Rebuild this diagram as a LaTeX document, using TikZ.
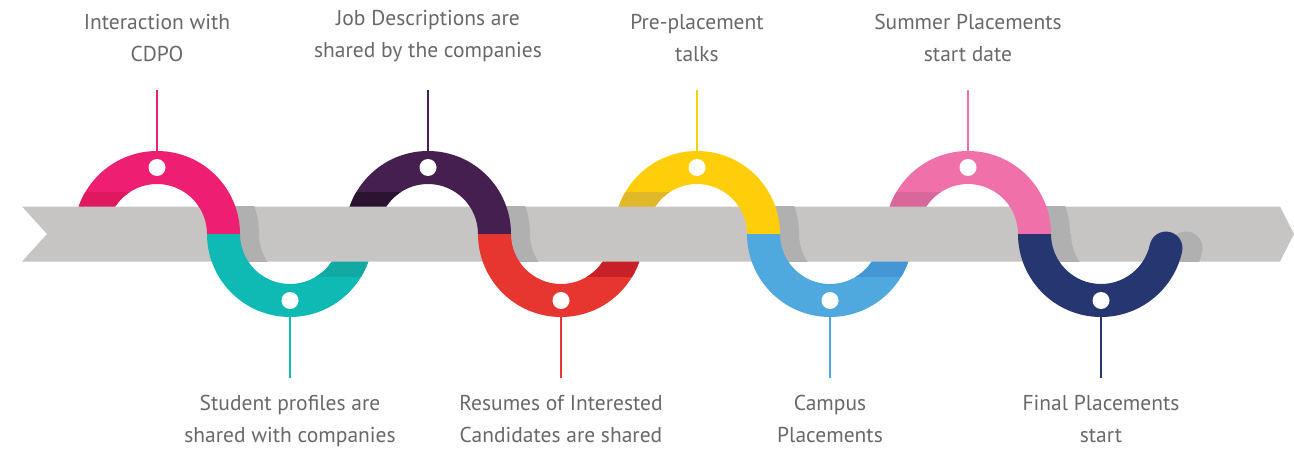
\documentclass[tikz,border=0pt]{standalone}
\usepackage{fontspec}
\setmainfont{PT Sans}
\usetikzlibrary{positioning}
\definecolor{cpink}{HTML}{EE1F72}
\definecolor{cpinkd}{HTML}{E0185F}
\definecolor{cteal}{HTML}{10BAB4}
\definecolor{ctealD}{HTML}{13A9A3}
\definecolor{cpurple}{HTML}{441F50}
\definecolor{cpurpleD}{HTML}{2A1430}
\definecolor{cred}{HTML}{E7362F}
\definecolor{credD}{HTML}{C82027}
\definecolor{cyellow}{HTML}{FFCE0B}
\definecolor{cyellowD}{HTML}{E0B82A}
\definecolor{cblue}{HTML}{4FA8DE}
\definecolor{cblueD}{HTML}{4596D4}
\definecolor{cpinkb}{HTML}{F071AA}
\definecolor{cpinkbD}{HTML}{D8689A}
\definecolor{cnavy}{HTML}{253671}
\definecolor{bandgray}{HTML}{C6C5C3}
\definecolor{shadowgray}{HTML}{B0B0B0}
\definecolor{txtgray}{HTML}{67686A}
\newcommand\ringpath[2]{({#1-83},217) arc[start angle=180,end angle={180-180*(#2)},radius=83pt] -- ({#1+50},217) arc[start angle={180-180*(#2)},end angle=180,radius=50pt] -- cycle}
\newcommand\navypath{(1018,217) arc[start angle=180,end angle=347.8,radius=83pt] arc[start angle=347.8,end angle=527.8,radius=16.5pt] arc[start angle=347.8,end angle=180,radius=50pt] -- cycle}
\begin{document}
\begin{tikzpicture}[x=1pt,y=1pt,
  lbl/.style={align=center,inner sep=0pt,text=txtgray,font=\fontsize{21.5}{32}\selectfont},
  ringdot/.style={circle,fill=white,inner sep=0pt,minimum size=17pt},
  stem/.style={line width=2.5pt}]
\useasboundingbox (0,0) rectangle (1294,451);

\foreach \c/\s/\col/\dk in {157/1/cpink/cpinkd,290/-1/cteal/ctealD,428/1/cpurple/cpurpleD,561/-1/cred/credD,697/1/cyellow/cyellowD,830/-1/cblue/cblueD,968/1/cpinkb/cpinkbD}{
  \fill[\col] \ringpath{\c}{\s};
  \begin{scope}
    \clip ({\c-84*\s},{217+27.5*\s}) rectangle (\c,{217+42*\s});
    \fill[\dk] \ringpath{\c}{\s};
  \end{scope}
}

\fill[bandgray] (22,244.5) -- (1280,244.5) -- (1294,217) -- (1280,189.5) -- (22,189.5) -- (47,217) -- cycle;

\foreach \c/\s in {157/1,290/-1,428/1,561/-1,697/1,830/-1,968/1}{
  \begin{scope}
    \clip (\c,189.5) rectangle ({\c+103*\s},244.5);
    \fill[shadowgray,xshift=19pt] \ringpath{\c}{\s};
  \end{scope}
}
\begin{scope}
  \clip (1017,189.5) rectangle (1294,244.5);
  \fill[shadowgray,xshift=20pt] \navypath;
\end{scope}

\foreach \c/\s/\col in {157/1/cpink,290/-1/cteal,428/1/cpurple,561/-1/cred,697/1/cyellow,830/-1/cblue,968/1/cpinkb}{
  \begin{scope}
    \clip (\c,189.5) rectangle ({\c+84*\s},244.5);
    \fill[\col] \ringpath{\c}{\s};
  \end{scope}
}
\fill[cnavy] \navypath;

\foreach \i/\c/\s/\col in {1/157/1/cpink,2/290/-1/cteal,3/428/1/cpurple,4/561/-1/cred,5/697/1/cyellow,6/830/-1/cblue,7/968/1/cpinkb,8/1101/-1/cnavy}{
  \node[ringdot] (d\i) at (\c,{217+66.5*\s}) {};
  \coordinate (e\i) at (\c,{217+83*\s});
  \coordinate (t\i) at (\c,{217+144*\s});
  \draw[stem,\col] (e\i) -- (t\i);
}

\node[lbl,above=28pt of t1] (l1) {Interaction with\\CDPO};
\node[lbl,below=17pt of t2] (l2) {Student profiles are\\shared with companies};
\node[lbl,above=28pt of t3] (l3) {Job Descriptions are\\shared by the companies};
\node[lbl,below=17pt of t4] (l4) {Resumes of Interested\\Candidates are shared};
\node[lbl,above=28pt of t5] (l5) {Pre-placement\\talks};
\node[lbl,below=17pt of t6] (l6) {Campus\\Placements};
\node[lbl,above=28pt of t7] (l7) {Summer Placements\\start date};
\node[lbl,below=17pt of t8] (l8) {Final Placements\\start};
\end{tikzpicture}
\end{document}
